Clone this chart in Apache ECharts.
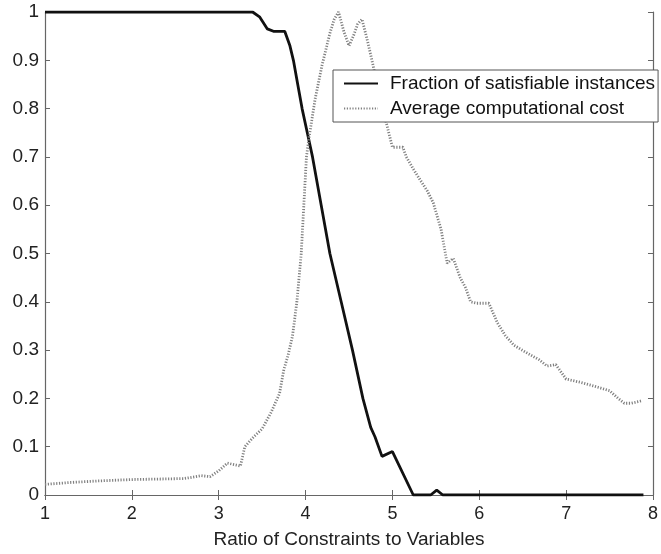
<!DOCTYPE html>
<html><head><meta charset="utf-8">
<script src="https://cdn.jsdelivr.net/npm/echarts@6/dist/echarts.min.js"></script>
<style>html,body{margin:0;padding:0;background:#fff}#c{width:661px;height:554px}</style>
</head><body><div id="c"></div>
<script>
var fracX = [1, 3.39, 3.47, 3.56, 3.63, 3.76, 3.82, 3.86, 3.91, 3.96, 4.02, 4.08, 4.18, 4.28, 4.41, 4.54, 4.66, 4.75, 4.8, 4.88, 5.0, 5.24, 5.44, 5.51, 5.58, 7.89];
var fracY = [1, 1, 0.99, 0.965, 0.96, 0.96, 0.93, 0.9, 0.85, 0.8, 0.75, 0.7, 0.6, 0.5, 0.4, 0.3, 0.2, 0.14, 0.12, 0.08, 0.09, 0, 0, 0.01, 0, 0];
var costX = [1,1.3,1.6,2,2.3,2.6,2.8,2.9,3.0,3.1,3.2,3.25,3.3,3.4,3.5,3.6,3.7,3.75,3.8,3.85,3.9,3.95,3.98,4.01,4.04,4.11,4.19,4.28,4.33,4.38,4.44,4.5,4.55,4.6,4.65,4.72,4.78,4.85,4.93,5.0,5.12,5.16,5.24,5.31,5.4,5.47,5.56,5.63,5.7,5.78,5.84,5.9,5.97,6.11,6.21,6.3,6.4,6.54,6.69,6.78,6.88,7.0,7.17,7.31,7.5,7.6,7.67,7.75,7.87];
var costY = [0.022,0.026,0.029,0.032,0.033,0.034,0.04,0.038,0.05,0.066,0.062,0.06,0.1,0.12,0.137,0.17,0.21,0.26,0.29,0.33,0.4,0.5,0.6,0.7,0.74,0.82,0.89,0.956,0.985,1.0,0.96,0.93,0.95,0.975,0.985,0.935,0.887,0.83,0.77,0.72,0.72,0.70,0.675,0.655,0.63,0.605,0.55,0.48,0.49,0.45,0.43,0.40,0.397,0.397,0.356,0.33,0.31,0.295,0.28,0.267,0.27,0.24,0.233,0.226,0.216,0.2,0.19,0.19,0.195];
var seriesNames = ['Fraction of satisfiable instances', 'Average computational cost'];
var xTitle = 'Ratio of Constraints to Variables';

function zip(a, b) { return a.map(function (v, i) { return [v, b[i]]; }); }

var chart = echarts.init(document.getElementById('c'), null, {renderer: 'canvas'});
var FONT = '"Liberation Sans", Arial, sans-serif';
var axisCol = '#666';
chart.setOption({
  animation: false,
  backgroundColor: '#fff',
  grid: {left: 45, right: 2, top: 12, bottom: 59, containLabel: false},
  legend: {
    left: 333, top: 70, orient: 'vertical',
    itemWidth: 34, itemHeight: 12, itemGap: 6,
    padding: [4, 3, 4, 10],
    borderColor: '#555', borderWidth: 1, backgroundColor: '#fff',
    itemStyle: {opacity: 0},
    textStyle: {fontFamily: FONT, fontSize: 19, color: '#111', padding: [0, 0, 0, 7]},
    data: seriesNames
  },
  xAxis: [{
    type: 'value', min: 1, max: 8, interval: 1,
    name: xTitle, nameLocation: 'middle', nameGap: 35,
    nameTextStyle: {fontFamily: FONT, fontSize: 19, color: '#222'},
    axisLine: {lineStyle: {color: axisCol, width: 1.2}},
    axisTick: {inside: true, length: 5, lineStyle: {color: axisCol}},
    axisLabel: {fontFamily: FONT, fontSize: 18, color: '#222', margin: 10},
    splitLine: {show: false}
  }, {
    type: 'value', min: 1, max: 8, interval: 1, position: 'top',
    axisLine: {show: true, lineStyle: {color: axisCol, width: 1.2}},
    axisTick: {inside: true, length: 5, lineStyle: {color: axisCol}},
    axisLabel: {show: false}, splitLine: {show: false}
  }],
  yAxis: [{
    type: 'value', min: 0, max: 1, interval: 0.1,
    axisLine: {show: true, lineStyle: {color: axisCol, width: 1.2}},
    axisTick: {show: true, inside: true, length: 5, lineStyle: {color: axisCol}},
    axisLabel: {fontFamily: FONT, fontSize: 19, color: '#222', margin: 6,
      formatter: function (v) { return Math.round(v * 10) / 10 + ''; }},
    splitLine: {show: false}
  }, {
    type: 'value', min: 0, max: 1, interval: 0.1, position: 'right',
    axisLine: {show: true, lineStyle: {color: axisCol, width: 1.2}},
    axisTick: {show: true, inside: true, length: 5, lineStyle: {color: axisCol}},
    axisLabel: {show: false}, splitLine: {show: false}
  }],
  series: [{
    name: seriesNames[0], type: 'line', data: zip(fracX, fracY),
    symbol: 'none', xAxisIndex: 0, yAxisIndex: 0,
    lineStyle: {color: '#111', width: 2.8},
    itemStyle: {color: '#111'}
  }, {
    name: seriesNames[1], type: 'line', data: zip(costX, costY),
    symbol: 'none', xAxisIndex: 0, yAxisIndex: 0,
    lineStyle: {color: '#808080', width: 2.8, type: [1.2, 1.6]},
    itemStyle: {color: '#808080'}
  }]
});
</script></body></html>
